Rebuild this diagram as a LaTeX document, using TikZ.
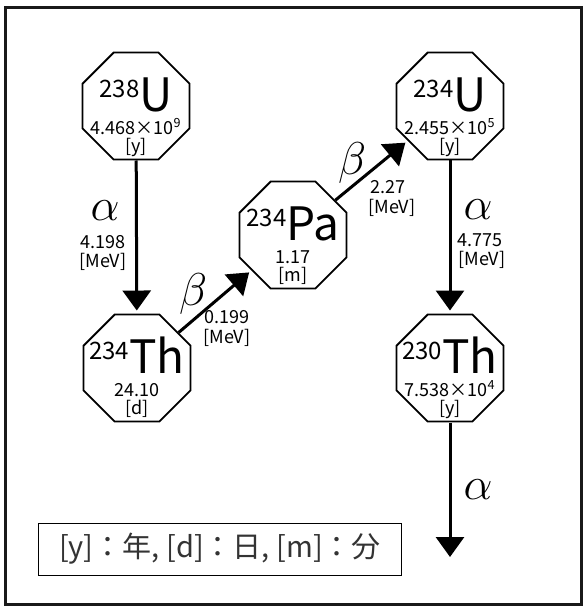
\documentclass[tikz,border=0pt]{standalone}
\usepackage{fix-cm}
\usepackage{fontspec}
\setmainfont{Noto Sans CJK JP}
\usetikzlibrary{shapes.geometric,arrows.meta,calc}

\tikzset{octa/.style = {regular polygon, regular polygon sides=8, minimum size=116pt,
                        inner sep=0pt, draw, line width=1.8pt},
         decay/.style = {-{Triangle[length=20pt,width=28pt]}, line width=3pt, shorten >=3pt},
         small/.style = {font=\fontsize{18}{18}\selectfont, inner sep=0pt},
         greek/.style = {font=\fontsize{46}{46}\selectfont, inner sep=0pt}
        }

% octagon with mass number, symbol, half-life and unit
\newcommand{\nuclide}[6]{%
  \node[octa] (#1) at (#2) {};
  \node[anchor=base, inner sep=0pt] (#1-sym) at ($(#1)+(0,5)$)
       {\fontsize{24}{24}\selectfont\raisebox{14pt}{#3}\fontsize{46}{46}\selectfont #4};
  \node[small, anchor=base] (#1-t) at ($(#1)+(0,28)$) {#5};
  \node[small, anchor=base] (#1-u) at ($(#1)+(0,46)$) {[#6]};
}

\begin{document}
\begin{tikzpicture}[x=1pt, y=-1pt]
  \useasboundingbox (0,0) rectangle (586,611);
  \draw[line width=3pt, black!90] (5,7) rectangle (581,604);

  \nuclide{U238}{136,106}{238}{U}{4.468\texttimes10\textsuperscript{9}}{y}
  \nuclide{Th234}{137,368}{234}{Th}{24.10}{d}
  \nuclide{Pa234}{293,235}{234}{Pa}{1.17}{m}
  \nuclide{U234}{450,106}{234}{U}{2.455\texttimes10\textsuperscript{5}}{y}
  \nuclide{Th230}{450,368}{230}{Th}{7.538\texttimes10\textsuperscript{4}}{y}
  \coordinate (end) at (450,557);

  \draw[decay] (U238) -- (Th234);
  \draw[decay] (Th234) -- (Pa234);
  \draw[decay] (Pa234) -- (U234);
  \draw[decay] (U234) -- (Th230);
  \draw[decay, shorten >=0pt] (Th230) -- (end);

  \node[greek] (a1) at (105,211) {$\alpha$};
  \node[small] (a1e) at (103,242) {4.198};
  \node[small] (a1u) at (103,262) {[MeV]};
  \node[greek] (b1) at (193,294) {$\beta$};
  \node[small] (b1e) at (227,317) {0.199};
  \node[small] (b1u) at (227,338) {[MeV]};
  \node[greek] (b2) at (352,163) {$\beta$};
  \node[small] (b2e) at (388,187) {2.27};
  \node[small] (b2u) at (392,208) {[MeV]};
  \node[greek] (a2) at (478,210) {$\alpha$};
  \node[small] (a2e) at (480,240) {4.775};
  \node[small] (a2u) at (482,260) {[MeV]};
  \node[greek] (a3) at (478,490) {$\alpha$};

  \node[draw, line width=1pt, minimum width=363pt, minimum height=52pt, text=black!80,
        font=\fontsize{29}{29}\selectfont] (legend) at (220,549)
       {[y]：年, [d]：日, [m]：分};
\end{tikzpicture}
\end{document}
